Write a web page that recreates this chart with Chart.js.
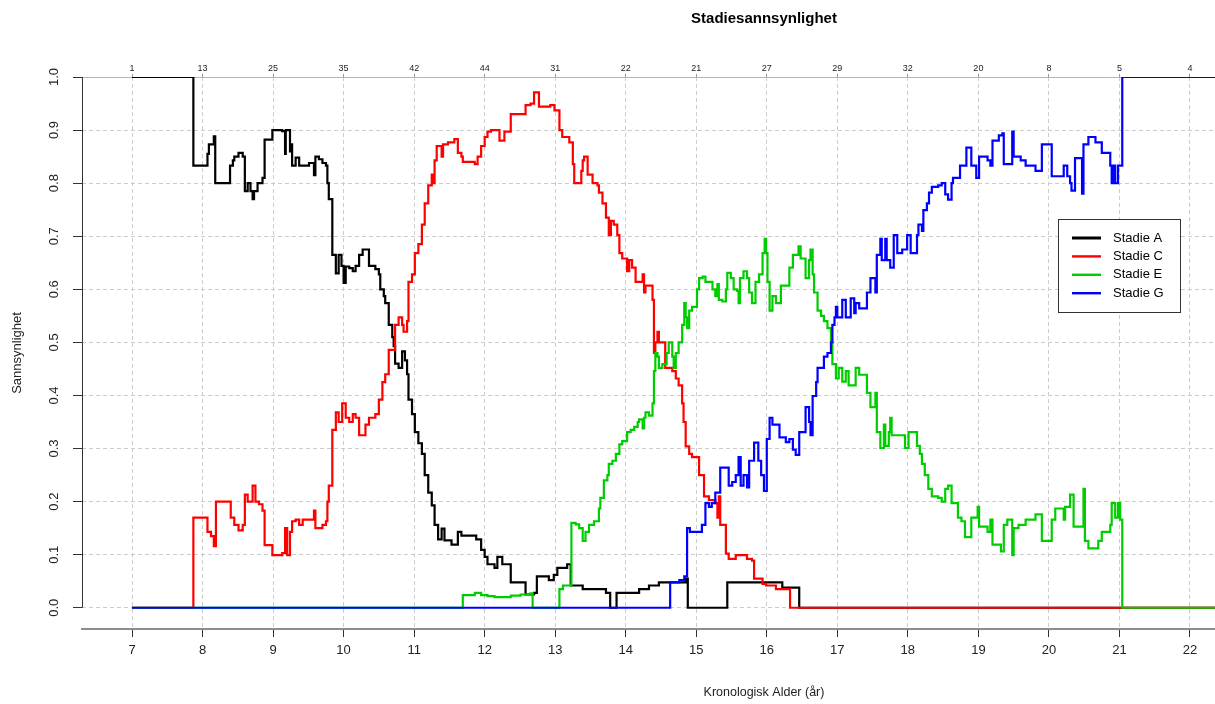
<!DOCTYPE html>
<html>
<head>
<meta charset="utf-8">
<script src="https://cdn.jsdelivr.net/npm/chart.js@4.4.1/dist/chart.umd.min.js"></script>
<style>
  html, body { margin: 0; padding: 0; background: #fff; }
  #wrap { width: 1215px; height: 704px; overflow: hidden; position: relative; }
  canvas { display: block; }
</style>
</head>
<body>
<div id="wrap"><canvas id="chart" width="1446" height="704"></canvas></div>
<script>
// Stadie A
const ageA = [7.00, 7.87, 8.07, 8.09, 8.16, 8.18, 8.39, 8.43, 8.45, 8.51, 8.57, 8.60, 8.64, 8.68, 8.71, 8.73, 8.78, 8.85, 8.88, 8.99,
  9.13, 9.17, 9.18, 9.24, 9.25, 9.27, 9.32, 9.37, 9.51, 9.58, 9.60, 9.65, 9.70, 9.75, 9.77, 9.79, 9.84, 9.89, 9.93, 9.97,
  10.00, 10.03, 10.08, 10.13, 10.17, 10.22, 10.27, 10.36, 10.45, 10.50, 10.52, 10.57, 10.59, 10.64, 10.69, 10.71, 10.73, 10.78, 10.83, 10.87,
  10.90, 10.92, 10.97, 11.01, 11.06, 11.11, 11.15, 11.20, 11.25, 11.29, 11.34, 11.39, 11.43, 11.53, 11.62, 11.67, 11.88, 11.95, 12.00, 12.04,
  12.14, 12.18, 12.25, 12.37, 12.58, 12.70, 12.74, 12.91, 12.98, 13.03, 13.17, 13.22, 13.39, 13.72, 13.78, 13.87, 14.19, 14.33, 14.47, 14.85,
  14.88, 15.44, 16.22, 16.46, 22.40];
const probA = [1.0, 0.833, 0.855, 0.873, 0.888, 0.80, 0.833, 0.843, 0.85, 0.857, 0.85, 0.785, 0.80, 0.785, 0.77, 0.785, 0.80, 0.81, 0.882, 0.90,
  0.898, 0.855, 0.90, 0.86, 0.873, 0.833, 0.848, 0.833, 0.838, 0.815, 0.85, 0.845, 0.838, 0.833, 0.80, 0.77, 0.665, 0.63, 0.665, 0.644,
  0.612, 0.643, 0.64, 0.634, 0.644, 0.665, 0.675, 0.644, 0.638, 0.628, 0.60, 0.587, 0.574, 0.533, 0.51, 0.493, 0.46, 0.452, 0.483, 0.466,
  0.44, 0.392, 0.365, 0.331, 0.31, 0.29, 0.25, 0.217, 0.193, 0.156, 0.129, 0.149, 0.127, 0.119, 0.143, 0.136, 0.129, 0.109, 0.096, 0.082,
  0.075, 0.096, 0.082, 0.048, 0.025, 0.028, 0.059, 0.052, 0.062, 0.075, 0.082, 0.042, 0.035, 0.028, 0.0, 0.028, 0.035, 0.042, 0.048, 0.055,
  0.0, 0.048, 0.038, 0.0, 0.0];

// Stadie C
const ageC = [7.00, 7.87, 8.07, 8.12, 8.16, 8.19, 8.40, 8.45, 8.51, 8.57, 8.60, 8.64, 8.71, 8.75, 8.80, 8.85, 8.88, 8.99, 9.13, 9.17,
  9.20, 9.24, 9.27, 9.32, 9.37, 9.42, 9.58, 9.60, 9.70, 9.75, 9.77, 9.79, 9.84, 9.89, 9.93, 9.98, 10.03, 10.08, 10.13, 10.17,
  10.22, 10.31, 10.36, 10.45, 10.50, 10.55, 10.59, 10.64, 10.73, 10.78, 10.83, 10.85, 10.90, 10.92, 10.97, 11.01, 11.06, 11.11, 11.15, 11.20,
  11.25, 11.27, 11.29, 11.32, 11.39, 11.41, 11.48, 11.57, 11.62, 11.67, 11.69, 11.86, 11.90, 11.95, 12.00, 12.04, 12.09, 12.21, 12.28, 12.37,
  12.58, 12.65, 12.70, 12.77, 12.93, 12.99, 13.06, 13.10, 13.20, 13.25, 13.27, 13.37, 13.39, 13.41, 13.46, 13.53, 13.60, 13.62, 13.67, 13.72,
  13.76, 13.79, 13.83, 13.88, 13.91, 13.95, 14.02, 14.05, 14.09, 14.14, 14.24, 14.26, 14.28, 14.38, 14.40, 14.42, 14.45, 14.47, 14.56, 14.66,
  14.71, 14.75, 14.80, 14.82, 14.85, 14.90, 14.94, 15.04, 15.11, 15.18, 15.27, 15.30, 15.32, 15.34, 15.42, 15.46, 15.56, 15.72, 15.79, 15.82,
  15.94, 15.99, 16.13, 16.33, 22.40];
const probC = [0.0, 0.17, 0.143, 0.135, 0.116, 0.20, 0.17, 0.156, 0.146, 0.156, 0.213, 0.20, 0.23, 0.20, 0.195, 0.183, 0.118, 0.099, 0.103, 0.15,
  0.099, 0.143, 0.163, 0.166, 0.156, 0.166, 0.183, 0.15, 0.156, 0.163, 0.20, 0.23, 0.335, 0.368, 0.35, 0.385, 0.358, 0.35, 0.365, 0.358,
  0.325, 0.345, 0.358, 0.365, 0.392, 0.425, 0.44, 0.486, 0.533, 0.547, 0.533, 0.52, 0.54, 0.614, 0.628, 0.668, 0.685, 0.722, 0.762, 0.796,
  0.816, 0.80, 0.843, 0.87, 0.85, 0.873, 0.877, 0.883, 0.857, 0.85, 0.84, 0.836, 0.85, 0.87, 0.887, 0.897, 0.90, 0.88, 0.897, 0.93,
  0.947, 0.95, 0.971, 0.944, 0.947, 0.937, 0.90, 0.887, 0.877, 0.836, 0.80, 0.823, 0.843, 0.85, 0.816, 0.80, 0.796, 0.782, 0.762, 0.735,
  0.702, 0.729, 0.722, 0.702, 0.668, 0.658, 0.634, 0.655, 0.641, 0.614, 0.628, 0.594, 0.607, 0.58, 0.48, 0.50, 0.52, 0.50, 0.452, 0.446,
  0.432, 0.419, 0.385, 0.35, 0.304, 0.29, 0.284, 0.25, 0.21, 0.203, 0.197, 0.17, 0.21, 0.156, 0.102, 0.092, 0.099, 0.092, 0.089, 0.055,
  0.045, 0.042, 0.035, 0.0, 0.0];

// Stadie E
const ageE = [7.00, 11.69, 11.86, 11.95, 12.04, 12.14, 12.37, 12.51, 12.65, 12.68, 13.06, 13.11, 13.23, 13.29, 13.34, 13.39, 13.43, 13.48, 13.55, 13.62,
  13.64, 13.69, 13.74, 13.76, 13.81, 13.86, 13.91, 13.95, 14.02, 14.07, 14.12, 14.17, 14.19, 14.24, 14.26, 14.28, 14.33, 14.38, 14.40, 14.42,
  14.45, 14.47, 14.52, 14.58, 14.61, 14.66, 14.68, 14.71, 14.75, 14.80, 14.83, 14.85, 14.87, 14.90, 14.94, 15.01, 15.04, 15.09, 15.13, 15.23,
  15.27, 15.30, 15.32, 15.37, 15.42, 15.44, 15.49, 15.53, 15.58, 15.60, 15.62, 15.67, 15.72, 15.75, 15.79, 15.84, 15.89, 15.94, 15.97, 15.99,
  16.01, 16.04, 16.08, 16.13, 16.20, 16.32, 16.37, 16.45, 16.48, 16.55, 16.60, 16.62, 16.65, 16.67, 16.72, 16.77, 16.81, 16.86, 16.91, 16.93,
  16.98, 17.02, 17.07, 17.12, 17.16, 17.26, 17.31, 17.42, 17.47, 17.54, 17.56, 17.61, 17.66, 17.68, 17.73, 17.75, 17.77, 17.96, 18.01, 18.13,
  18.17, 18.20, 18.24, 18.29, 18.34, 18.43, 18.48, 18.53, 18.57, 18.62, 18.71, 18.76, 18.81, 18.90, 18.99, 19.01, 19.13, 19.17, 19.20, 19.32,
  19.36, 19.41, 19.48, 19.50, 19.57, 19.67, 19.81, 19.90, 20.04, 20.09, 20.21, 20.23, 20.30, 20.35, 20.49, 20.51, 20.56, 20.70, 20.75, 20.87,
  20.89, 20.94, 20.98, 21.01, 21.04, 22.40];
const probE = [0.0, 0.024, 0.028, 0.024, 0.022, 0.02, 0.023, 0.025, 0.027, 0.0, 0.035, 0.042, 0.16, 0.157, 0.15, 0.126, 0.143, 0.156, 0.163, 0.187,
  0.207, 0.24, 0.25, 0.271, 0.277, 0.29, 0.308, 0.314, 0.331, 0.335, 0.341, 0.35, 0.355, 0.338, 0.358, 0.368, 0.362, 0.385, 0.446, 0.48,
  0.473, 0.452, 0.459, 0.48, 0.50, 0.473, 0.452, 0.48, 0.50, 0.533, 0.574, 0.547, 0.527, 0.56, 0.567, 0.60, 0.621, 0.624, 0.614, 0.60,
  0.587, 0.61, 0.58, 0.577, 0.60, 0.631, 0.621, 0.60, 0.597, 0.574, 0.621, 0.634, 0.621, 0.594, 0.574, 0.614, 0.628, 0.668, 0.695, 0.668,
  0.614, 0.56, 0.587, 0.574, 0.607, 0.641, 0.665, 0.681, 0.658, 0.621, 0.655, 0.675, 0.628, 0.594, 0.56, 0.55, 0.54, 0.527, 0.50, 0.459,
  0.432, 0.452, 0.426, 0.446, 0.419, 0.452, 0.439, 0.405, 0.378, 0.405, 0.331, 0.301, 0.345, 0.305, 0.331, 0.358, 0.325, 0.301, 0.331, 0.305,
  0.29, 0.271, 0.25, 0.224, 0.21, 0.207, 0.20, 0.224, 0.23, 0.197, 0.17, 0.163, 0.133, 0.17, 0.19, 0.153, 0.143, 0.166, 0.119, 0.106,
  0.156, 0.166, 0.099, 0.15, 0.156, 0.166, 0.176, 0.126, 0.166, 0.187, 0.166, 0.19, 0.213, 0.153, 0.224, 0.126, 0.112, 0.126, 0.143, 0.156,
  0.197, 0.17, 0.197, 0.166, 0.0, 0.0];

// Stadie G
const ageG = [7.00, 14.63, 14.76, 14.83, 14.87, 14.91, 15.04, 15.08, 15.13, 15.18, 15.22, 15.27, 15.34, 15.46, 15.51, 15.56, 15.60, 15.63, 15.67, 15.72,
  15.75, 15.82, 15.88, 15.92, 15.96, 16.00, 16.04, 16.08, 16.18, 16.27, 16.32, 16.37, 16.41, 16.46, 16.55, 16.60, 16.62, 16.65, 16.70, 16.72,
  16.81, 16.86, 16.91, 16.93, 16.96, 16.98, 17.00, 17.07, 17.12, 17.19, 17.24, 17.26, 17.31, 17.42, 17.47, 17.54, 17.56, 17.61, 17.63, 17.68,
  17.70, 17.75, 17.80, 17.85, 17.92, 17.99, 18.04, 18.13, 18.15, 18.20, 18.22, 18.27, 18.30, 18.34, 18.43, 18.48, 18.53, 18.57, 18.62, 18.64,
  18.74, 18.83, 18.90, 18.97, 19.01, 19.13, 19.17, 19.20, 19.29, 19.34, 19.36, 19.48, 19.50, 19.60, 19.67, 19.81, 19.90, 20.04, 20.21, 20.26,
  20.30, 20.32, 20.37, 20.47, 20.49, 20.56, 20.66, 20.75, 20.87, 20.89, 20.92, 20.94, 20.98, 21.04, 22.40];
const probG = [0.0, 0.048, 0.052, 0.059, 0.15, 0.143, 0.143, 0.156, 0.197, 0.19, 0.197, 0.217, 0.264, 0.23, 0.237, 0.25, 0.284, 0.23, 0.25, 0.227,
  0.277, 0.311, 0.277, 0.25, 0.22, 0.318, 0.358, 0.345, 0.321, 0.312, 0.318, 0.298, 0.288, 0.331, 0.378, 0.35, 0.325, 0.399, 0.425, 0.452,
  0.473, 0.48, 0.50, 0.533, 0.547, 0.567, 0.547, 0.58, 0.547, 0.583, 0.555, 0.574, 0.564, 0.594, 0.621, 0.594, 0.665, 0.695, 0.655, 0.695,
  0.655, 0.641, 0.702, 0.668, 0.675, 0.702, 0.668, 0.702, 0.722, 0.71, 0.749, 0.762, 0.782, 0.793, 0.796, 0.80, 0.779, 0.769, 0.80, 0.81,
  0.833, 0.867, 0.833, 0.81, 0.85, 0.843, 0.833, 0.88, 0.89, 0.894, 0.836, 0.897, 0.85, 0.843, 0.833, 0.823, 0.873, 0.813, 0.833, 0.813,
  0.80, 0.786, 0.847, 0.78, 0.873, 0.887, 0.877, 0.857, 0.833, 0.80, 0.833, 0.80, 0.833, 1.0, 1.0];

// Antall observasjoner per alder (øvre akse)
const countAges = [7, 8, 9, 10, 11, 12, 13, 14, 15, 16, 17, 18, 19, 20, 21, 22];
const counts = [1, 13, 25, 35, 42, 44, 31, 22, 21, 27, 29, 32, 20, 8, 5, 4];

const xTicks = [7, 8, 9, 10, 11, 12, 13, 14, 15, 16, 17, 18, 19, 20, 21, 22, 23, 24, 25];
const yTicks = [0, 0.1, 0.2, 0.3, 0.4, 0.5, 0.6, 0.7, 0.8, 0.9, 1.0];

const FONT = '"Liberation Sans", Arial, sans-serif';
const toPoints = (ages, probs) => ages.map((a, i) => ({ x: a, y: probs[i] }));

// Legend drawn inside the plot, anchored at data coordinates
const legendAt = [20.13, 0.732];
const legendBox = {
  id: "legendBox",
  afterDatasetsDraw(chart) {
    const { ctx, scales } = chart;
    const left = Math.round(scales.x.getPixelForValue(legendAt[0]));
    const top = Math.round(scales.y.getPixelForValue(legendAt[1]));
    const w = 122, h = 93;
    ctx.save();
    ctx.fillStyle = "#fff";
    ctx.fillRect(left, top, w, h);
    ctx.strokeStyle = "#333";
    ctx.lineWidth = 1;
    ctx.strokeRect(left + 0.5, top + 0.5, w, h);
    ctx.font = "13px " + FONT;
    ctx.textBaseline = "middle";
    chart.data.datasets.forEach((ds, i) => {
      const yy = top + 19 + i * 18.4;
      ctx.strokeStyle = ds.borderColor;
      ctx.lineWidth = i === 0 ? 3 : 2.4;
      ctx.beginPath();
      ctx.moveTo(left + 14, yy);
      ctx.lineTo(left + 43, yy);
      ctx.stroke();
      ctx.fillStyle = "#000";
      ctx.fillText(ds.label, left + 55, yy);
    });
    ctx.restore();
  },
};

// y axis line only from 0 to 1
const yAxisLine = {
  id: "yAxisLine",
  beforeDatasetsDraw(chart) {
    const { ctx, chartArea, scales } = chart;
    const x = Math.round(chartArea.left) + 0.5;
    ctx.save();
    ctx.strokeStyle = "#333";
    ctx.lineWidth = 1;
    ctx.beginPath();
    ctx.moveTo(x, scales.y.getPixelForValue(0));
    ctx.lineTo(x, scales.y.getPixelForValue(1));
    ctx.stroke();
    ctx.restore();
  },
};

const line = (label, ages, probs, color, order) => ({
  label,
  data: toPoints(ages, probs),
  borderColor: color,
  backgroundColor: color,
  borderWidth: 2.2,
  pointRadius: 0,
  stepped: true,
  fill: false,
  order,
});

new Chart(document.getElementById("chart"), {
  type: "line",
  data: {
    datasets: [
      line("Stadie A", ageA, probA, "#000000", 4),
      line("Stadie C", ageC, probC, "#FF0000", 3),
      line("Stadie E", ageE, probE, "#00CD00", 2),
      line("Stadie G", ageG, probG, "#0000FF", 1),
    ],
  },
  options: {
    responsive: false,
    animation: false,
    layout: { padding: 0 },
    plugins: {
      legend: { display: false },
      tooltip: { enabled: false },
      title: {
        display: true,
        fullSize: false,
        text: "Stadiesannsynlighet",
        color: "#000",
        font: { family: FONT, size: 15, weight: "bold" },
        padding: { top: 10, bottom: 8 },
      },
    },
    scales: {
      x: {
        type: "linear",
        position: "bottom",
        min: 6.291,
        max: 25.63,
        afterBuildTicks: (s) => { s.ticks = xTicks.map((v) => ({ value: v })); },
        afterFit: (s) => { s.height = 75; },
        ticks: {
          color: "#222",
          font: { family: FONT, size: 13 },
          padding: 6,
          maxRotation: 0,
          callback: (v) => String(v),
        },
        grid: { color: "#cccccc", lineWidth: 1, tickColor: "#333", tickLength: 8 },
        border: { display: true, color: "#8c8c8c", width: 2, dash: [4, 3] },
        title: {
          display: true,
          text: "Kronologisk Alder (år)",
          color: "#222",
          font: { family: FONT, size: 12.5 },
          padding: { top: 4, bottom: 4 },
        },
      },
      x2: {
        type: "linear",
        position: "top",
        min: 6.291,
        max: 25.63,
        afterBuildTicks: (s) => { s.ticks = countAges.map((v) => ({ value: v })); },
        afterFit: (s) => { s.height = 41; },
        ticks: {
          color: "#222",
          font: { family: FONT, size: 9 },
          padding: 0,
          maxRotation: 0,
          callback: (v) => {
            const i = countAges.indexOf(v);
            return i >= 0 ? String(counts[i]) : "";
          },
        },
        grid: { display: true, drawOnChartArea: false, tickLength: 3, tickColor: "#999" },
        border: { display: true, color: "#b4b4b4", width: 1 },
      },
      y: {
        type: "linear",
        min: -0.04,
        max: 1.0,
        afterBuildTicks: (s) => { s.ticks = yTicks.map((v) => ({ value: v })); },
        afterFit: (s) => { s.width = 82; },
        ticks: {
          color: "#222",
          font: { family: FONT, size: 13 },
          padding: 10,
          minRotation: 90,
          maxRotation: 90,
          crossAlign: "center",
          callback: (v) => v.toFixed(1),
        },
        grid: { color: "#cccccc", lineWidth: 1, tickColor: "#333", tickLength: 9 },
        border: { display: false, dash: [4, 3] },
        title: {
          display: true,
          text: "Sannsynlighet",
          color: "#222",
          font: { family: FONT, size: 13 },
          padding: { top: 10, bottom: 0 },
        },
      },
    },
  },
  plugins: [legendBox, yAxisLine],
});
</script>
</body>
</html>
